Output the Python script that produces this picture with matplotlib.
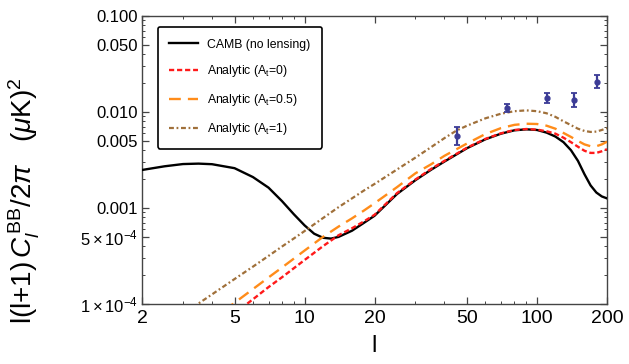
import numpy as np
import matplotlib
matplotlib.use("Agg")
import matplotlib.pyplot as plt
from matplotlib.ticker import FixedLocator, FixedFormatter, NullFormatter

plt.rcParams['font.family'] = ['Liberation Sans', 'DejaVu Sans']
plt.rcParams['mathtext.fontset'] = 'custom'
plt.rcParams['mathtext.rm'] = 'Liberation Sans'
plt.rcParams['mathtext.it'] = 'Liberation Sans:italic'
plt.rcParams['mathtext.bf'] = 'Liberation Sans:bold'

# ---- data ----
l_camb = [2, 2.5, 3, 3.5, 4, 5, 6, 7, 8, 9, 10, 11, 12, 13, 14, 16, 18, 20, 25, 30,
          35, 40, 50, 60, 70, 80, 90, 100, 110, 120, 130, 140, 150, 160, 170, 180, 190, 200]
cl_camb = [2.49e-3, 2.72e-3, 2.87e-3, 2.9e-3, 2.86e-3, 2.6e-3, 2.1e-3, 1.63e-3, 1.18e-3,
           8.6e-4, 6.6e-4, 5.4e-4, 4.9e-4, 4.8e-4, 5.0e-4, 5.8e-4, 7.0e-4, 8.3e-4, 1.4e-3,
           1.95e-3, 2.5e-3, 3.05e-3, 4.2e-3, 5.2e-3, 5.95e-3, 6.45e-3, 6.6e-3, 6.5e-3,
           6.1e-3, 5.55e-3, 4.85e-3, 4.0e-3, 3.1e-3, 2.25e-3, 1.72e-3, 1.45e-3, 1.32e-3, 1.26e-3]

l_an = [5, 6, 7, 8, 10, 12, 14, 16, 18, 20, 25, 30, 35, 40, 50, 60, 70, 80, 90, 100,
        110, 120, 130, 140, 150, 160, 170, 180, 190, 200]
cl_at0 = [8.0e-5, 1.12e-4, 1.5e-4, 1.9e-4, 2.87e-4, 4.0e-4, 5.2e-4, 6.15e-4, 7.25e-4,
          8.5e-4, 1.43e-3, 1.98e-3, 2.55e-3, 3.1e-3, 4.25e-3, 5.25e-3, 6.0e-3, 6.5e-3,
          6.65e-3, 6.55e-3, 6.3e-3, 5.95e-3, 5.4e-3, 4.85e-3, 4.35e-3, 3.95e-3, 3.75e-3,
          3.75e-3, 3.9e-3, 4.1e-3]

l_an05 = [4.5, 5, 6, 7, 8, 10, 12, 14, 16, 18, 20, 25, 30, 35, 40, 50, 60, 70, 80, 90,
          100, 110, 120, 130, 140, 150, 160, 170, 180, 190, 200]
cl_at05 = [8.5e-5, 1.03e-4, 1.43e-4, 1.89e-4, 2.4e-4, 3.6e-4, 5.0e-4, 6.4e-4, 7.8e-4,
           9.4e-4, 1.12e-3, 1.65e-3, 2.3e-3, 2.85e-3, 3.5e-3, 4.7e-3, 5.9e-3, 6.8e-3,
           7.35e-3, 7.55e-3, 7.5e-3, 7.2e-3, 6.7e-3, 6.05e-3, 5.5e-3, 5.0e-3, 4.6e-3,
           4.4e-3, 4.4e-3, 4.6e-3, 4.9e-3]

l_an1 = [3.3, 4, 5, 6, 7, 8, 9, 10, 12, 14, 16, 18, 20, 25, 30, 35, 40, 45, 50, 60, 70,
         80, 90, 100, 110, 120, 130, 140, 150, 160, 170, 180, 190, 200]
cl_at1 = [9.2e-5, 1.26e-4, 1.82e-4, 2.45e-4, 3.17e-4, 3.97e-4, 4.82e-4, 5.75e-4, 7.85e-4,
          1.02e-3, 1.26e-3, 1.52e-3, 1.78e-3, 2.52e-3, 3.35e-3, 4.3e-3, 5.35e-3, 6.4e-3,
          7.2e-3, 8.6e-3, 9.6e-3, 1.02e-2, 1.04e-2, 1.02e-2, 9.7e-3, 8.9e-3, 8.0e-3,
          7.3e-3, 6.7e-3, 6.35e-3, 6.2e-3, 6.25e-3, 6.5e-3, 6.8e-3]

l_data = [45.4, 74.6, 110, 144.6, 181]
cl_data = [5.65e-3, 1.104e-2, 1.407e-2, 1.33e-2, 2.04e-2]
cl_hi = [7.0e-3, 1.225e-2, 1.585e-2, 1.59e-2, 2.41e-2]
cl_lo = [4.5e-3, 9.93e-3, 1.245e-2, 1.13e-2, 1.76e-2]

labels = ["CAMB (no lensing)", r"Analytic (A$_{\rm t}$=0)",
          r"Analytic (A$_{\rm t}$=0.5)", r"Analytic (A$_{\rm t}$=1)"]

xticks = [2, 5, 10, 20, 50, 100, 200]
xticklabels = ["2", "5", "10", "20", "50", "100", "200"]
yticks = [1e-4, 5e-4, 1e-3, 5e-3, 1e-2, 5e-2, 1e-1]
yticklabels = [r"$1\times10^{-4}$", r"$5\times10^{-4}$", "0.001", "0.005", "0.010", "0.050", "0.100"]

# ---- figure ----
fig = plt.figure(figsize=(6.29, 3.64), dpi=100)
ax = fig.add_axes([0.2258, 0.1648, 0.7392, 0.7912])
ax.set_xscale('log')
ax.set_yscale('log')

ax.plot(l_camb, cl_camb, color='black', lw=1.7, label=labels[0], zorder=3)
ax.plot(l_an, cl_at0, color='#ff1a1a', lw=1.7, dashes=(2.2, 1.2), label=labels[1], zorder=4)
ax.plot(l_an05, cl_at05, color='#ff8c1a', lw=1.7, dashes=(5, 3), label=labels[2], zorder=4)
ax.plot(l_an1, cl_at1, color='#a0703a', lw=1.6, dashes=(2.2, 1.2, 0.8, 1.2), label=labels[3], zorder=4)

yerr = [np.array(cl_data) - np.array(cl_lo), np.array(cl_hi) - np.array(cl_data)]
ax.errorbar(l_data, cl_data, yerr=yerr, fmt='o', color='#3c3c96', ms=3.5,
            elinewidth=1.6, capsize=2.5, capthick=1.3, zorder=5)

ax.set_xlim(2, 200)
ax.set_ylim(1e-4, 0.1)

ax.xaxis.set_major_locator(FixedLocator(xticks))
ax.xaxis.set_major_formatter(FixedFormatter(xticklabels))
xminor = [3, 4, 6, 7, 8, 9, 30, 40, 60, 70, 80, 90]
ax.xaxis.set_minor_locator(FixedLocator(xminor))
ax.xaxis.set_minor_formatter(NullFormatter())

ax.yaxis.set_major_locator(FixedLocator(yticks))
ax.yaxis.set_major_formatter(FixedFormatter(yticklabels))
yminor = [m * 10.0 ** e for e in (-4, -3, -2) for m in range(2, 10) if m != 5]
ax.yaxis.set_minor_locator(FixedLocator(yminor))
ax.yaxis.set_minor_formatter(NullFormatter())

ax.tick_params(which='both', direction='in', top=True, right=True, color='#444444')
ax.tick_params(which='major', length=5, width=0.9)
ax.tick_params(which='minor', length=2.5, width=0.7)
ax.tick_params(axis='x', which='major', labelsize=14, pad=4)
ax.tick_params(axis='y', which='major', labelsize=12, pad=3)
for s in ax.spines.values():
    s.set_color('#444444')
    s.set_linewidth(1.0)

ax.set_xlabel("l", fontsize=17, labelpad=6)
ax.set_ylabel(r"l(l+1)$\,C_l^{\,\rm BB}/2\pi\ \ \ (\mu{\rm K})^2$", fontsize=20)
ax.yaxis.set_label_coords(-0.215, 0.36)

leg = ax.legend(loc='upper left', bbox_to_anchor=(0.034, 0.962), fontsize=8.8,
                frameon=True, fancybox=True, edgecolor='black', framealpha=1,
                handlelength=2.3, handletextpad=0.8, labelspacing=1.05,
                borderpad=0.95, borderaxespad=0)
leg.get_frame().set_linewidth(1.2)

fig.savefig("out.png", dpi=100)
